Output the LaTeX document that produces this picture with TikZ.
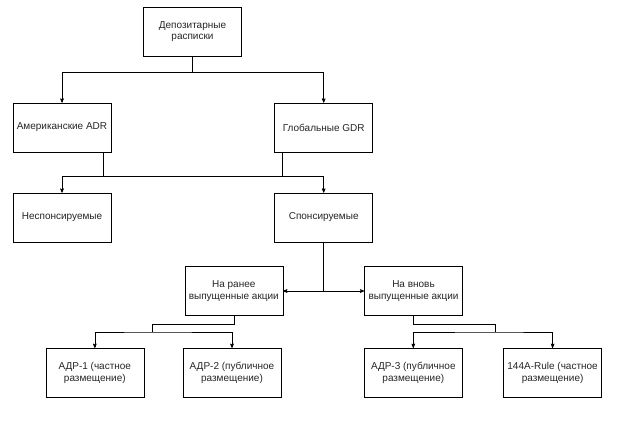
\documentclass[tikz,border=0pt]{standalone}
\usepackage{fontspec}
\setmainfont{Liberation Sans}
\usepackage{tikz}
\usetikzlibrary{arrows}

\begin{document}
\begin{tikzpicture}[>=stealth',semithick,x=1pt,y=1pt,
                    every node/.style={font=\fontsize{10}{11.5}\selectfont}]
  \tikzstyle{block}=[draw=black,fill=white,text=black!85,align=center,
                     minimum width=98pt,minimum height=49pt,inner sep=1pt]
  \useasboundingbox (0,0) rectangle (618,-421);

  \node[block] (D)  at (192.5,-31.5) {Депозитарные\\расписки};
  \node[block] (A)  at (62,-127.5)   {Американские ADR};
  \node[block] (G)  [right of=A,node distance=261.7pt] {Глобальные GDR};
  \node[block] (N)  [below of=A,node distance=90pt]    {Неспонсируемые};
  \node[block] (S)  [below of=G,node distance=90pt]    {Спонсируемые};
  \node[block] (R)  at (233.8,-291)  {На ранее\\выпущенные акции};
  \node[block] (V)  [right of=R,node distance=179.7pt] {На вновь\\выпущенные акции};
  \node[block] (R1) at (94.8,-372.7) {АДР-1 (частное\\размещение)};
  \node[block] (R2) [right of=R1,node distance=137.2pt] {АДР-2 (публичное\\размещение)};
  \node[block] (R3) [right of=R2,node distance=181.3pt] {АДР-3 (публичное\\размещение)};
  \node[block] (R4) [right of=R3,node distance=139.3pt] {144A-Rule (частное\\размещение)};

  \coordinate (r) at (152,-332);
  \coordinate (v) at (495.5,-332);

  \path[draw] (D.south) -- ++(0,-16) coordinate (d);
  \draw[<->] (A.north) |- (d) -| (G.north);
  \draw ([xshift=-8pt]A.south east) -- ++(0,-25);
  \draw ([xshift=8pt]G.south west) -- ++(0,-25);
  \draw[<->] (N.north) -- ++(0,16) -| (S.north);
  \draw (S.south) -- ++(0,-49);
  \draw[<->] (R.east) -- (V.west);
  \draw (R.south) |- ([yshift=8pt]r) -- (r);
  \draw[<->] (R1.north) |- (r) -| (R2.north);
  \draw (V.south) |- ([yshift=8pt]v) -- (v);
  \draw[<->] (R3.north) |- (v) -| (R4.north);
\end{tikzpicture}
\end{document}
